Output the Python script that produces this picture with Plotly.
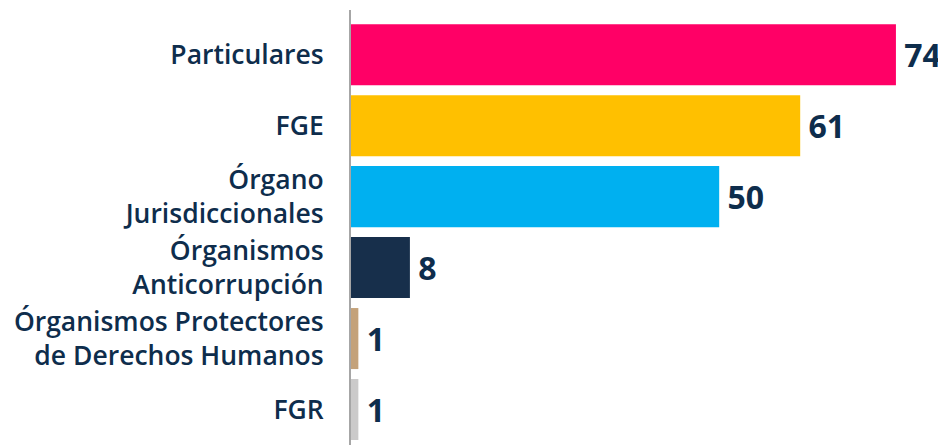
import plotly.graph_objects as go

categories = [
    "Particulares",
    "FGE",
    "Órgano<br>Jurisdiccionales",
    "Órganismos<br>Anticorrupción",
    "Órganismos Protectores<br>de Derechos Humanos",
    "FGR",
]
values = [74, 61, 50, 8, 1, 1]
colors = ["#FF0066", "#FFC000", "#00B0F0", "#172F4B", "#C4A27A", "#CBCACA"]

text_color = "#0E2D4C"

fig = go.Figure(
    go.Bar(
        x=values,
        y=categories,
        orientation="h",
        marker=dict(color=colors, line=dict(width=0)),
        text=values,
        texttemplate="\u2009%{text}",
        textposition="outside",
        textfont=dict(family="Open Sans", size=32, color=text_color, weight=700),
        cliponaxis=False,
        hoverinfo="skip",
    )
)

# The page body adds an 8px offset, so the figure is sized to fit the window.
fig.update_layout(
    width=938,
    height=437,
    margin=dict(l=343, r=0, t=2, b=0),
    paper_bgcolor="white",
    plot_bgcolor="white",
    bargap=0.14,
    showlegend=False,
    font=dict(family="Open Sans", color=text_color),
)

fig.update_xaxes(
    range=[0, 80.8],
    visible=False,
    showgrid=False,
    zeroline=False,
)

fig.update_yaxes(
    type="category",
    categoryorder="array",
    categoryarray=categories,
    range=[5.5, -0.63],
    showgrid=False,
    zeroline=False,
    showline=True,
    linecolor="#A6A6A6",
    linewidth=2,
    ticks="",
    automargin=False,
    ticklabelstandoff=20,
    tickfont=dict(family="Open Sans", size=26.5, color=text_color, weight=600),
)

fig.write_html("out.html")
